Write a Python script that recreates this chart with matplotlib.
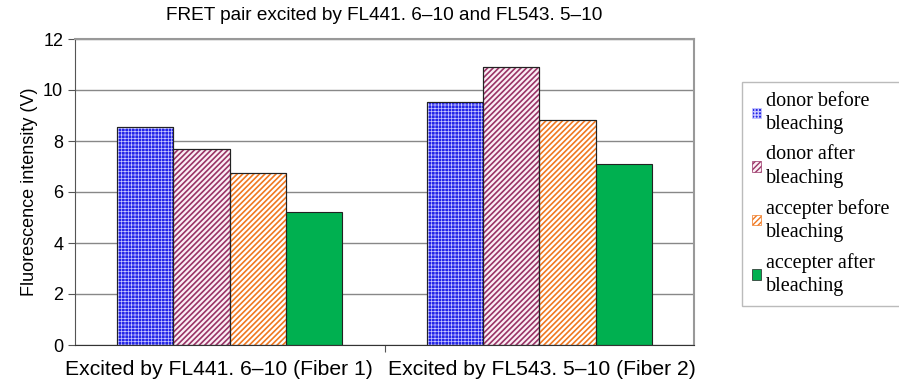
import numpy as np
import matplotlib as mpl
import matplotlib.pyplot as plt
import matplotlib.patches as mpatches

groups = ['Excited by FL441. 6–10 (Fiber 1)', 'Excited by FL543. 5–10 (Fiber 2)']
series = ['donor before\nbleaching', 'donor after\nbleaching',
          'accepter before\nbleaching', 'accepter after\nbleaching']
donor_before = [8.55, 9.52]
donor_after = [7.67, 10.9]
accepter_before = [6.73, 8.81]
accepter_after = [5.22, 7.08]
values = [donor_before, donor_after, accepter_before, accepter_after]

faces = ['#2424e8', '#fbeef4', 'white', '#00b050']
hatch_cols = ['#c8c8ff', '#993366', '#f07820', None]
hatches = ['+++++', '//////', '//////', None]
hatch_lw = [0.5, 1.2, 1.2, 1.0]

plt.rcParams['font.family'] = ['Liberation Sans', 'DejaVu Sans']
fig = plt.figure(figsize=(8.99, 3.91), dpi=100)
ax = fig.add_axes([75/899, 1-345/391, (694-75)/899, (345-39)/391])

x = np.arange(len(groups))
w = 0.182
proxies = []
for i, vals in enumerate(values):
    pos = x + (i - 1.5) * w
    with mpl.rc_context({'hatch.linewidth': hatch_lw[i]}):
        ax.bar(pos, vals, w, color=faces[i], edgecolor='#222222', linewidth=0.8, zorder=2)
        if hatches[i]:
            ax.bar(pos, vals, w, color='none', edgecolor=hatch_cols[i], hatch=hatches[i],
                   linewidth=0, zorder=2.5)
            ax.bar(pos, vals, w, color='none', edgecolor='#222222', linewidth=0.8, zorder=3)
        proxies.append(mpatches.Patch(facecolor=faces[i], edgecolor=hatch_cols[i] or '#222222',
                                      hatch=hatches[i], linewidth=0.5))

ax.set_xlim(-0.5, 1.5)
ax.set_ylim(0, 12)
ax.set_yticks(range(0, 13, 2))
ax.set_xticks([0.5])
ax.set_xticklabels([''])
# group labels, nudged apart like the original
for xi, g, dx in zip(x, groups, [-11, 3]):
    ax.annotate(g, xy=(xi, 0), xycoords=('data', 'axes fraction'),
                xytext=(dx, -15), textcoords='offset pixels',
                ha='center', va='top', fontsize=15.2)
ax.tick_params(axis='x', length=5, direction='out', color='#555555')
ax.tick_params(axis='y', length=5, direction='out', labelsize=13, color='#555555')
ax.yaxis.grid(True, color='#888888', linewidth=1)
ax.set_axisbelow(True)
for s in ['top', 'right']:
    ax.spines[s].set_color('#999999')
    ax.spines[s].set_linewidth(1.5)
ax.spines['left'].set_color('#555555')
ax.spines['bottom'].set_color('#333333')
ax.set_ylabel('Fluorescence intensity (V)', fontsize=13)
ax.set_title('FRET pair excited by FL441. 6–10 and FL543. 5–10', fontsize=13.7, pad=14)

leg = fig.legend(proxies, series, loc='upper left', bbox_to_anchor=(742/899, 1-82/391),
                 prop={'family': 'Liberation Serif', 'size': 14.5}, handlelength=0.45,
                 handleheight=0.45, handletextpad=0.25, labelspacing=0.55,
                 borderpad=0.5, frameon=True, fancybox=False, borderaxespad=0)
leg.get_frame().set_edgecolor('#aaaaaa')
leg.get_frame().set_linewidth(1)
for t in leg.get_texts():
    t.set_linespacing(1.3)

fig.savefig('out.png', dpi=100)
